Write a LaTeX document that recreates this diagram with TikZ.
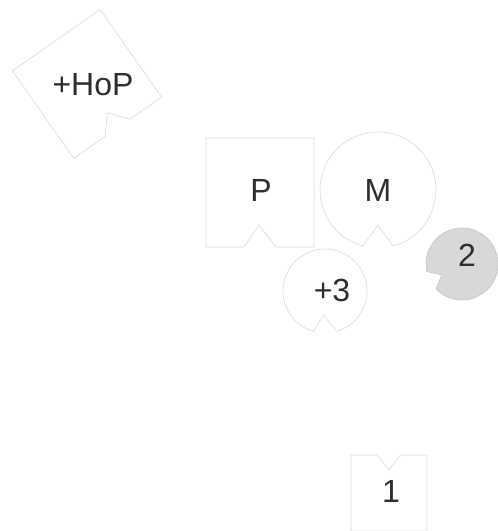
\documentclass[tikz,border=0pt]{standalone}
\usepackage{fontspec}
\setmainfont{Liberation Sans}
\definecolor{edge}{HTML}{D9D9D9}
\definecolor{txt}{HTML}{2E2E2E}
\definecolor{greyfill}{HTML}{D8D8D8}
\definecolor{greyedge}{HTML}{C4C4C4}
\tikzset{
  piece/.style={draw=edge, line width=0.6pt, line join=miter},
  greypiece/.style={draw=greyedge, fill=greyfill, line width=0.6pt},
  lbl/.style={text=txt, inner sep=0pt, font=\fontsize{32}{37}\selectfont}
}
\begin{document}
\begin{tikzpicture}[x=1pt,y=1pt]
\useasboundingbox (0,0) rectangle (498,531);
% +HoP rotated notched square
\begin{scope}[shift={(87,447)}, rotate=35]
  \draw[piece] (-53.5,-53.5) -- (-15,-53.5) -- (0,-35) -- (15,-53.5) -- (53.5,-53.5) -- (53.5,53.5) -- (-53.5,53.5) -- cycle;
\end{scope}
\node[lbl] (hop) at (93,446) {+HoP};
% P notched square
\begin{scope}[shift={(260,338.5)}]
  \draw[piece] (-54,-54.5) -- (-16,-54.5) -- (-1,-32.5) -- (16,-54.5) -- (54,-54.5) -- (54,54.5) -- (-54,54.5) -- cycle;
\end{scope}
\node[lbl] (p) at (261,341) {P};
% M notched circle
\begin{scope}[shift={(378,341)}]
  \draw[piece] (-75:58) arc[start angle=-75, end angle=255, radius=58] -- (0,-35) -- cycle;
\end{scope}
\node[lbl] (m) at (378,341) {M};
% +3 notched circle
\begin{scope}[shift={(325,240)}]
  \draw[piece] (-74:42) arc[start angle=-74, end angle=254, radius=42] -- (-1.5,-24) -- cycle;
\end{scope}
\node[lbl] (p3) at (332,241) {+3};
% 2 grey notched circle
\begin{scope}[shift={(462,267)}, rotate=-62]
  \draw[greypiece] (-74:36) arc[start angle=-74, end angle=254, radius=36] -- (0,-23) -- cycle;
\end{scope}
\node[lbl] (two) at (467,276) {2};
% 1 notched square (notch on top)
\begin{scope}[shift={(389,38)}]
  \draw[piece] (-38,38) -- (-11.5,38) -- (0,23) -- (11.5,38) -- (38,38) -- (38,-38) -- (-38,-38) -- cycle;
\end{scope}
\node[lbl] (one) at (391,40) {1};
\end{tikzpicture}
\end{document}
